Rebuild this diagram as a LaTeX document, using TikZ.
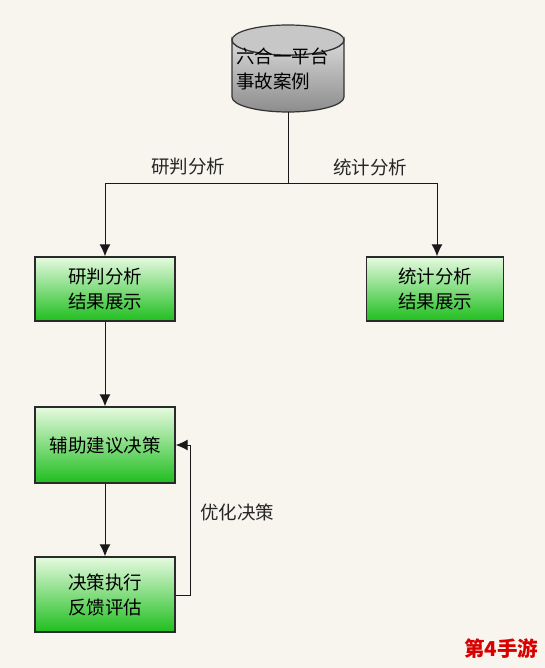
\documentclass[tikz,border=0pt]{standalone}
\usepackage{fontspec}
\setmainfont{Noto Sans CJK SC}
\usetikzlibrary{arrows.meta}
\definecolor{bg}{HTML}{F8F5EF}
\definecolor{gtop}{HTML}{E6FAE0}
\definecolor{gbot}{HTML}{1FBE1F}
\definecolor{edge}{HTML}{2A2A2A}
\begin{document}
\begin{tikzpicture}[x=1pt,y=-1pt,
  box/.style={draw=edge, line width=1.4pt, top color=gtop, bottom color=gbot,
    minimum width=140pt, minimum height=64pt, inner sep=0pt, align=center,
    font=\fontsize{18.5}{25}\selectfont, text=black},
  conn/.style={draw=black!90, line width=1pt},
  arr/.style={conn, -{Latex[length=12pt,width=11pt]}},
  lbl/.style={font=\fontsize{18.5}{25}\selectfont, text=black!85, inner sep=0pt}]
\useasboundingbox (0,0) rectangle (545,668);
\fill[bg] (0,0) rectangle (545,668);
% cylinder
\path[draw=black!80, line width=1.2pt, top color=black!15, bottom color=black!45]
  (232,40) -- (232,97) arc[start angle=180, end angle=0, x radius=56, y radius=15]
  -- (344,40) arc[start angle=0, end angle=180, x radius=56, y radius=15] -- cycle;
\path[draw=black!80, line width=1.2pt, fill=black!22]
  (288,40) ellipse[x radius=56, y radius=15];
\node[lbl, anchor=west, align=left, text=black] (db) at (236,69) {六合一平台\\事故案例};
\coordinate (dbb) at (288,112);
\coordinate (split) at (288,184);
\coordinate (lft) at (105,184);
\coordinate (rgt) at (437,184);
% boxes
\node[box, minimum height=64pt] (b1) at (105,289) {研判分析\\结果展示};
\node[box, minimum width=137pt, minimum height=64pt] (b2) at (435,289) {统计分析\\结果展示};
\node[box, minimum height=76pt] (b3) at (105,445) {辅助建议决策};
\node[box, minimum height=75pt] (b4) at (105,594.5) {决策执行\\反馈评估};
% connectors
\draw[conn] (dbb) -- (split);
\draw[arr] (split) -- (lft) -- (b1.north);
\draw[arr] (split) -- (rgt) -- (b2.north -| rgt);
\draw[arr] (b1) -- (b3);
\draw[arr] (b3) -- (b4);
\coordinate (fb1) at (190,595);
\coordinate (fb2) at (190,445);
\draw[arr] (b4.east |- fb1) -- (fb1) -- (fb2) -- (b3.east);
% labels
\node[lbl] (l1) at (188,167) {研判分析};
\node[lbl] (l2) at (370,167) {统计分析};
\node[lbl] (l3) at (237,512) {优化决策};
\node[font=\fontsize{20.5}{24}\selectfont\bfseries, text=red!85!black, inner sep=0pt] (wm) at (501,649) {第4手游};
\end{tikzpicture}
\end{document}
